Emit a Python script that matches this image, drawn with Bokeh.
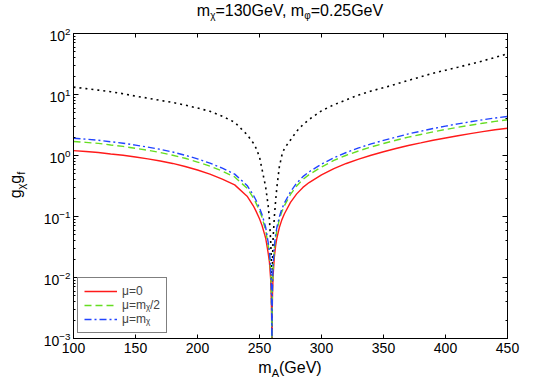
from bokeh.plotting import figure
from bokeh.layouts import column, row
from bokeh.models import (LogAxis, LinearAxis, FixedTicker, Legend, LegendItem, Div)
from bokeh.embed import file_html
from bokeh.resources import INLINE

# ---- data ----
m_A = [100, 110, 120, 130, 140, 150, 160, 170, 180, 190, 200, 210, 220, 230, 240,
       245, 247, 250, 252, 254, 255, 257, 258, 259,
       259.5, 259.8, 259.95, 260, 260.05, 260.2, 260.5,
       261, 262, 263, 264, 266, 268, 270,
       275, 280, 285, 290,
       300, 310, 320, 330, 340, 350, 360, 370, 380, 390, 400, 410, 420, 430, 440, 450]

g_mu0 = [1.20, 1.16, 1.12, 1.06, 1.01, 0.944, 0.881, 0.813, 0.741, 0.661, 0.579, 0.495, 0.41, 0.33, 0.215,
         0.150, 0.125, 0.092, 0.072, 0.052, 0.044, 0.025, 0.018, 0.0095,
         0.005, 0.002, 0.0006, 0.0001, 0.0006, 0.0022, 0.0055,
         0.011, 0.022, 0.033, 0.044, 0.066, 0.088, 0.11,
         0.17, 0.235, 0.30, 0.36,
         0.48, 0.61, 0.74, 0.871, 1.01, 1.15, 1.30, 1.46, 1.61, 1.78, 1.94, 2.11, 2.28, 2.46, 2.64, 2.79]

g_muhalf = [1.70, 1.64, 1.58, 1.49, 1.41, 1.31, 1.22, 1.12, 1.01, 0.90, 0.78, 0.67, 0.555, 0.445, 0.29,
            0.203, 0.169, 0.124, 0.097, 0.070, 0.059, 0.034, 0.024, 0.0128,
            0.0068, 0.0027, 0.0008, 0.0001, 0.0008, 0.003, 0.0074,
            0.0149, 0.0297, 0.0446, 0.059, 0.089, 0.119, 0.149,
            0.23, 0.317, 0.405, 0.486,
            0.65, 0.83, 1.01, 1.19, 1.38, 1.57, 1.78, 2.0, 2.21, 2.44, 2.67, 2.9, 3.13, 3.38, 3.62, 3.85]

g_mufull = [1.92, 1.85, 1.78, 1.68, 1.59, 1.48, 1.37, 1.26, 1.14, 1.01, 0.88, 0.75, 0.62, 0.495, 0.323,
            0.225, 0.188, 0.138, 0.108, 0.078, 0.066, 0.0375, 0.027, 0.0143,
            0.0075, 0.003, 0.0009, 0.0001, 0.0009, 0.0033, 0.0083,
            0.0165, 0.033, 0.05, 0.066, 0.099, 0.132, 0.165,
            0.255, 0.353, 0.45, 0.54,
            0.72, 0.92, 1.12, 1.33, 1.55, 1.77, 2.0, 2.26, 2.5, 2.77, 3.03, 3.3, 3.57, 3.85, 4.12, 4.37]

g_dotted = [13.2, 12.5, 11.8, 11.1, 10.3, 9.4, 8.7, 8.0, 7.4, 6.7, 6.0, 5.3, 4.4, 3.5, 2.2,
            1.6, 1.35, 0.95, 0.6, 0.38, 0.3, 0.15, 0.09, 0.04,
            0.02, 0.008, 0.002, 0.0001, 0.002, 0.008, 0.02,
            0.045, 0.1, 0.18, 0.3, 0.65, 1.0, 1.3,
            1.8, 2.5, 3.2, 3.9,
            5.4, 6.8, 8.2, 9.8, 11.4, 12.9, 14.8, 17.0, 19.5, 22.3, 25.0, 28.0, 31.5, 35.5, 40.5, 46.5]

legend_labels = ["\u03bc=0", "\u03bc=m\u1d6a/2", "\u03bc=m\u1d6a"]
x_ticks = [100, 150, 200, 250, 300, 350, 400, 450]

FONT = "Liberation Sans"
CSSFONT = "font-family:'Liberation Sans',Arial,sans-serif;color:black;white-space:nowrap;"

p = figure(width=522, height=338, output_backend="svg", toolbar_location=None,
           y_axis_type="log", x_range=(100, 450), y_range=(1e-3, 1e2),
           min_border_left=35, min_border_right=53, min_border_top=11, min_border_bottom=22,
           margin=0)
p.grid.visible = False
p.outline_line_color = "black"
p.background_fill_color = "white"
p.border_fill_color = "white"

# curves
r_dot = p.line(m_A, g_dotted, line_color="black", line_width=1.6, line_dash="2 4")
r0 = p.line(m_A, g_mu0, line_color="#ff1a1a", line_width=1.4)
r1 = p.line(m_A, g_muhalf, line_color="#66dd22", line_width=1.4, line_dash="7 4")
r2 = p.line(m_A, g_mufull, line_color="#2244ff", line_width=1.4, line_dash="7 3 2 3")

# axes styling
def style_x(ax, labels=True):
    ax.ticker = FixedTicker(ticks=x_ticks)
    ax.major_tick_in = 4
    ax.major_tick_out = 0
    ax.minor_tick_line_color = None
    ax.axis_line_color = "black"
    ax.major_tick_line_color = "black"
    ax.major_label_text_font = FONT
    ax.major_label_text_font_size = "14px"
    ax.major_label_text_color = "black"
    ax.major_label_standoff = 4
    if not labels:
        ax.major_label_text_color = None
        ax.major_label_text_font_size = "1px"
        ax.major_label_standoff = 0

def style_y(ax, labels=True):
    ax.major_tick_in = 5
    ax.major_tick_out = 0
    ax.minor_tick_in = 2
    ax.minor_tick_out = 0
    ax.axis_line_color = "black"
    ax.major_tick_line_color = "black"
    ax.minor_tick_line_color = "black"
    ax.major_label_text_font = FONT
    ax.major_label_text_font_size = "14px"
    ax.major_label_text_color = "black"
    ax.major_label_standoff = 3
    if not labels:
        ax.major_label_text_color = None
        ax.major_label_text_font_size = "1px"
        ax.major_label_standoff = 0

style_x(p.xaxis[0])
style_y(p.yaxis[0])
top = LinearAxis()
style_x(top, labels=False)
p.add_layout(top, "above")
right = LogAxis()
style_y(right, labels=False)
p.add_layout(right, "right")

# legend
legend = Legend(items=[LegendItem(label=legend_labels[0], renderers=[r0]),
                       LegendItem(label=legend_labels[1], renderers=[r1]),
                       LegendItem(label=legend_labels[2], renderers=[r2])],
                location=(4, 5), margin=0, padding=6, spacing=0,
                label_height=12, glyph_height=12, glyph_width=33, label_standoff=5,
                label_text_font=FONT, label_text_font_size="12px",
                border_line_color="black", border_line_width=1,
                background_fill_color="white", background_fill_alpha=1)
p.add_layout(legend)

# texts with subscripts, as HTML around the figure
def sub(t, size, shift):
    return f'<span style="font-size:{size}px;position:relative;top:{shift}px;">{t}</span>'

title_html = (
    f'<div style="position:relative;width:560px;height:22px;">'
    f'<div style="position:absolute;left:73px;top:3px;width:434px;text-align:center;'
    f'font-size:16px;line-height:16px;{CSSFONT}">'
    f'm{sub("&chi;", 10, 3)}=130GeV, m{sub("&phi;", 10, 3)}=0.25GeV</div></div>')
title_div = Div(text=title_html, width=560, height=22, margin=0)

ylab_html = (
    f'<div style="position:relative;width:38px;height:338px;">'
    f'<div style="position:absolute;left:8px;top:213px;width:100px;text-align:center;'
    f'transform:rotate(-90deg);transform-origin:left top;'
    f'font-size:16px;line-height:16px;{CSSFONT}">'
    f'g{sub("&chi;", 11, 4)}g{sub("f", 11, 4)}</div></div>')
ylab_div = Div(text=ylab_html, width=38, height=338, margin=0)

xlab_html = (
    f'<div style="position:relative;width:560px;height:25px;">'
    f'<div style="position:absolute;left:73px;top:0px;width:434px;text-align:center;'
    f'font-size:16px;line-height:16px;{CSSFONT}">'
    f'm{sub("A", 11, 4)}(GeV)</div></div>')
xlab_div = Div(text=xlab_html, width=560, height=25, margin=0)

layout = column(title_div, row(ylab_div, p, spacing=0, margin=0), xlab_div, spacing=0, margin=0)

open("out.html", "w").write(file_html(layout, INLINE))
